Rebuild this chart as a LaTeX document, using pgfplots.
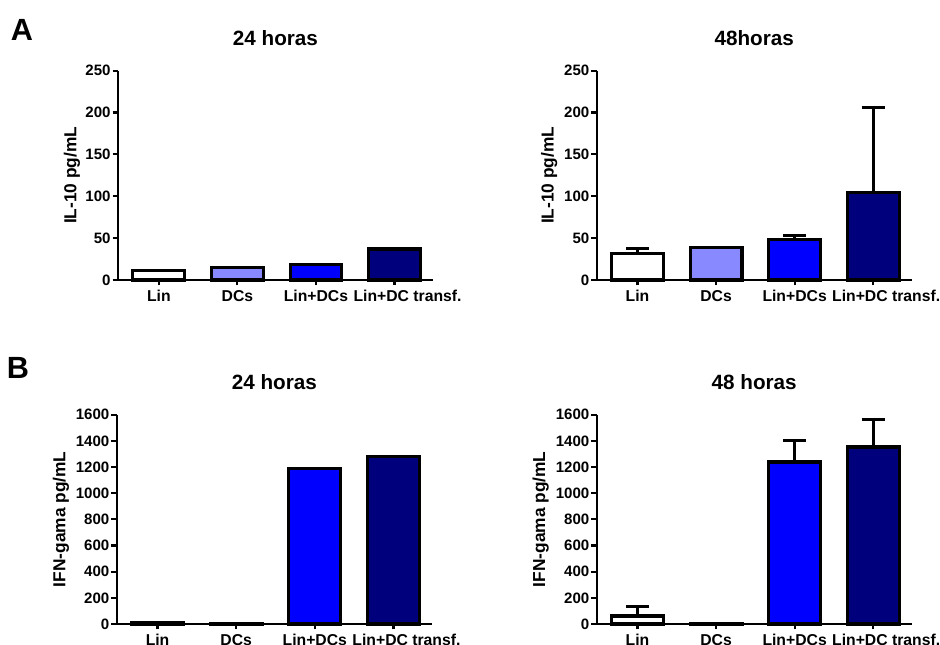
\documentclass[border=0pt]{standalone}
\usepackage{fontspec}
\setmainfont{Liberation Sans}
\usepackage{pgfplots}
\pgfplotsset{compat=1.18}
\definecolor{lblue}{RGB}{136,136,255}
\definecolor{mblue}{RGB}{0,0,255}
\definecolor{navy}{RGB}{0,0,125}
\pgfplotsset{
  panel/.style={
    scale only axis,
    width=236.25pt, height=157pt,
    axis lines=left,
    axis line style={-, line width=1.6pt},
    tick style={line width=1.6pt, black},
    major tick length=4pt,
    tick align=outside,
    xmin=-0.52, xmax=3.49,
    ymin=0,
    xtick={0,1,2,3},
    xticklabels={Lin,DCs,Lin+DCs,\hspace*{19.5pt}Lin+DC transf.},
    /pgf/number format/assume math mode=true,
    /pgf/number format/set thousands separator={},
    yticklabel style={font=\bfseries\fontsize{11.3}{12}\selectfont, xshift=2pt},
    xticklabel style={font=\bfseries\fontsize{11.8}{12}\selectfont},
    ylabel style={font=\bfseries\fontsize{13}{14}\selectfont, anchor=center},
    title style={font=\bfseries\fontsize{15.5}{16}\selectfont, at={(0.5,1)}, anchor=center, yshift=18.5pt},
    clip=false,
  },
  b/.style={ybar, bar width=0.66, bar shift=0pt, draw=black, line width=2.3pt, fill=#1},
  eb/.style={error bars/.cd, y dir=plus, y explicit,
    error bar style={line width=2.3pt, black},
    error mark options={rotate=90, mark size=8.5pt, line width=2.3pt, black}},
}
\begin{document}
\begin{tikzpicture}
\useasboundingbox (0,0) rectangle (705pt,483.75pt);
\node[font=\bfseries\fontsize{23}{24}\selectfont] at (16.5pt,461.25pt) {A};
\node[font=\bfseries\fontsize{23}{24}\selectfont] at (13.5pt,207.75pt) {B};

% Top-left
\begin{axis}[panel, at={(88.5pt,273.75pt)}, anchor=south west,
  ymax=250, ytick={0,50,100,150,200,250},
  title={24 horas}, ylabel={IL-10 pg/mL},
  ylabel style={at={(axis description cs:-0.146,0.5)}}]
\addplot[b=white] coordinates {(0,11.5)};
\addplot[b=lblue] coordinates {(1,14.5)};
\addplot[b=mblue] coordinates {(2,18)};
\addplot[b=navy] coordinates {(3,37)};
\end{axis}

% Top-right
\begin{axis}[panel, at={(447.5pt,273.75pt)}, anchor=south west,
  ymax=250, ytick={0,50,100,150,200,250},
  title={48horas}, ylabel={IL-10 pg/mL},
  ylabel style={at={(axis description cs:-0.151,0.5)}}]
\addplot[b=white, eb] coordinates {(0,31.7) +- (0,6)};
\addplot[b=lblue] coordinates {(1,39.3)};
\addplot[b=mblue, eb] coordinates {(2,48.4) +- (0,4.8)};
\addplot[b=navy, eb] coordinates {(3,104.3) +- (0,101.2)};
\end{axis}

% Bottom-left
\begin{axis}[panel, at={(87.5pt,15.75pt)}, anchor=south west, width=236.5pt,
  ymax=1600, ytick={0,200,400,600,800,1000,1200,1400,1600},
  title={24 horas}, ylabel={IFN-gama pg/mL},
  ylabel style={at={(axis description cs:-0.177,0.5)}}]
\addplot[b=white] coordinates {(0,10)};
\addplot[b=lblue] coordinates {(1,2)};
\addplot[b=mblue] coordinates {(2,1192)};
\addplot[b=navy] coordinates {(3,1281)};
\end{axis}

% Bottom-right
\begin{axis}[panel, at={(447.5pt,15.75pt)}, anchor=south west,
  ymax=1600, ytick={0,200,400,600,800,1000,1200,1400,1600},
  title={48 horas}, ylabel={IFN-gama pg/mL},
  ylabel style={at={(axis description cs:-0.178,0.5)}}]
\addplot[b=white, eb] coordinates {(0,61) +- (0,71)};
\addplot[b=lblue] coordinates {(1,5)};
\addplot[b=mblue, eb] coordinates {(2,1238) +- (0,163)};
\addplot[b=navy, eb] coordinates {(3,1353) +- (0,209)};
\end{axis}
\end{tikzpicture}
\end{document}
